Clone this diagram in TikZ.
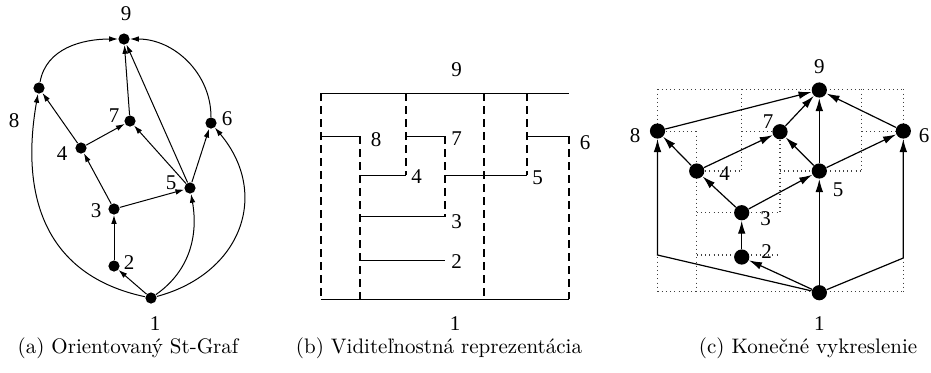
\documentclass[tikz,border=0pt]{standalone}
\usepackage{fontspec}
\setmainfont{Latin Modern Roman}
\newfontfamily\numfont{Liberation Serif}
\usetikzlibrary{arrows.meta}
\tikzset{
  dota/.style={circle, fill=black, inner sep=0pt, minimum size=5.6pt},
  dotc/.style={circle, fill=black, inner sep=0pt, minimum size=7.6pt},
  lbl/.style={inner sep=0pt, font=\numfont\fontsize{10.5}{12}\selectfont},
  edgea/.style={-{Latex[length=4.4pt,width=2.8pt]}, line width=0.5pt},
  edgec/.style={-{Latex[length=6.5pt,width=3.8pt]}, line width=0.6pt},
  bar/.style={line width=0.5pt},
  visedge/.style={line width=1pt, dash pattern=on 4pt off 2.5pt},
  gridline/.style={line width=0.55pt, black!75, dash pattern=on 0.5pt off 1.6pt},
  caption/.style={font=\fontsize{10.5}{12}\selectfont, anchor=base}
}

\begin{document}
\begin{tikzpicture}[x=0.5pt, y=-0.5pt]
    \useasboundingbox (0,0) rectangle (931,372);

    % (a) orientovany st-graf
    \node[dota] (a1) at (151,298) {};
    \node[dota] (a2) at (114,266) {};
    \node[dota] (a3) at (114,209) {};
    \node[dota] (a4) at (81,148) {};
    \node[dota] (a5) at (190,188) {};
    \node[dota] (a6) at (211,123) {};
    \node[dota] (a7) at (130,121) {};
    \node[dota] (a8) at (39,88) {};
    \node[dota] (a9) at (124,39) {};

    \node[lbl] (a1l) at (155,324) {1};
    \node[lbl] (a2l) at (129,263) {2};
    \node[lbl] (a3l) at (96,211) {3};
    \node[lbl] (a4l) at (62,154) {4};
    \node[lbl] (a5l) at (171,183) {5};
    \node[lbl] (a6l) at (227,119) {6};
    \node[lbl] (a7l) at (114,116) {7};
    \node[lbl] (a8l) at (14,121) {8};
    \node[lbl] (a9l) at (126,14) {9};

    \draw[edgea] (a1) -- (a2);
    \draw[edgea] (a2) -- (a3);
    \draw[edgea] (a3) -- (a4);
    \draw[edgea] (a3) -- (a5);
    \draw[edgea] (a4) -- (a8);
    \draw[edgea] (a4) -- (a7);
    \draw[edgea] (a5) -- (a7);
    \draw[edgea] (a5) -- (a9);
    \draw[edgea] (a5) -- (a6);
    \draw[edgea] (a7) -- (a9);
    \draw[edgea] (a8) to[out=80, in=180] (a9);
    \draw[edgea] (a6) to[out=90, in=0] (a9);
    \draw[edgea] (a1) to[out=168, in=-100, looseness=1.15] (a8);
    \draw[edgea] (a1) to[out=35, in=-80] (a5);
    \draw[edgea] (a1) to[out=15, in=-50, looseness=1.25] (a6);

    % (b) viditelnostna reprezentacia
    \draw[visedge] (320.7,93.3) -- (320.7,299);
    \draw[visedge] (360,136) -- (360,299);
    \draw[visedge] (406,93.3) -- (406,175);
    \draw[visedge] (445,136) -- (445,216.7);
    \draw[visedge] (484,93.3) -- (484,299);
    \draw[visedge] (527.3,93.3) -- (527.3,175);
    \draw[visedge] (569.3,136) -- (569.3,299);

    \draw[bar] (320.7,93.3) -- (569.3,93.3);
    \draw[bar] (320.7,136) -- (360,136);
    \draw[bar] (406,136) -- (445,136);
    \draw[bar] (527.3,136) -- (569.3,136);
    \draw[bar] (360,175) -- (406,175);
    \draw[bar] (445,175) -- (527.3,175);
    \draw[bar] (360,216.7) -- (445,216.7);
    \draw[bar] (360,260) -- (445,260);
    \draw[bar] (320.7,299) -- (569.3,299);

    \node[lbl] (b9l) at (456.7,70) {9};
    \node[lbl] (b8l) at (376,140) {8};
    \node[lbl] (b7l) at (456.7,139) {7};
    \node[lbl] (b6l) at (585,143) {6};
    \node[lbl] (b4l) at (416.7,177) {4};
    \node[lbl] (b5l) at (537.7,178) {5};
    \node[lbl] (b3l) at (456.7,221.7) {3};
    \node[lbl] (b2l) at (456.7,261.7) {2};
    \node[lbl] (b1l) at (455,324) {1};

    % (c) konecne vykreslenie - mriezka
    \draw[gridline] (657.5,89.3) -- (903.3,89.3);
    \draw[gridline] (657.5,131.3) -- (696.7,131.3);
    \draw[gridline] (741.7,131.3) -- (780,131.3);
    \draw[gridline] (861.7,131.3) -- (903.3,131.3);
    \draw[gridline] (696.7,171) -- (741.7,171);
    \draw[gridline] (780,171) -- (861.7,171);
    \draw[gridline] (696.7,212.7) -- (780,212.7);
    \draw[gridline] (696.7,255) -- (780,255);
    \draw[gridline] (657.5,291.7) -- (903.3,291.7);
    \draw[gridline] (657.5,89.3) -- (657.5,291.7);
    \draw[gridline] (696.7,131.3) -- (696.7,291.7);
    \draw[gridline] (741.7,89.3) -- (741.7,171);
    \draw[gridline] (780,131.3) -- (780,212.7);
    \draw[gridline] (861.7,89.3) -- (861.7,171);
    \draw[gridline] (903.3,89.3) -- (903.3,291.7);

    \node[dotc] (c1) at (819.3,292.7) {};
    \node[dotc] (c2) at (741.7,257) {};
    \node[dotc] (c3) at (741.7,212.7) {};
    \node[dotc] (c4) at (696.7,171) {};
    \node[dotc] (c5) at (819.3,171) {};
    \node[dotc] (c6) at (903.3,131) {};
    \node[dotc] (c7) at (780,131.7) {};
    \node[dotc] (c8) at (657.5,131) {};
    \node[dotc] (c9) at (819.3,90) {};
    \coordinate (c8b) at (657.5,255);
    \coordinate (c6b) at (903.3,258);

    \node[lbl] (c1l) at (819.3,324) {1};
    \node[lbl] (c2l) at (766.5,251.5) {2};
    \node[lbl] (c3l) at (765.5,219) {3};
    \node[lbl] (c4l) at (724.5,174) {4};
    \node[lbl] (c5l) at (838,190) {5};
    \node[lbl] (c6l) at (924,136) {6};
    \node[lbl] (c7l) at (768,122) {7};
    \node[lbl] (c8l) at (635,136) {8};
    \node[lbl] (c9l) at (819.3,67) {9};

    \draw[edgec] (c1) -- (c2);
    \draw[edgec] (c1) -- (c5);
    \draw[edgec] (c1) -- (c8b) -- (c8);
    \draw[edgec] (c1) -- (c6b) -- (c6);
    \draw[edgec] (c2) -- (c3);
    \draw[edgec] (c3) -- (c4);
    \draw[edgec] (c3) -- (c5);
    \draw[edgec] (c4) -- (c8);
    \draw[edgec] (c4) -- (c7);
    \draw[edgec] (c5) -- (c7);
    \draw[edgec] (c5) -- (c9);
    \draw[edgec] (c5) -- (c6);
    \draw[edgec] (c7) -- (c9);
    \draw[edgec] (c8) -- (c9);
    \draw[edgec] (c6) -- (c9);

    % popisky
    \node[caption] (capa) at (128,353.5) {(a) Orientovaný St-Graf};
    \node[caption] (capb) at (439,353.5) {(b) Viditeľnostná reprezentácia};
    \node[caption] (capc) at (808,353.5) {(c) Konečné vykreslenie};
\end{tikzpicture}
\end{document}
